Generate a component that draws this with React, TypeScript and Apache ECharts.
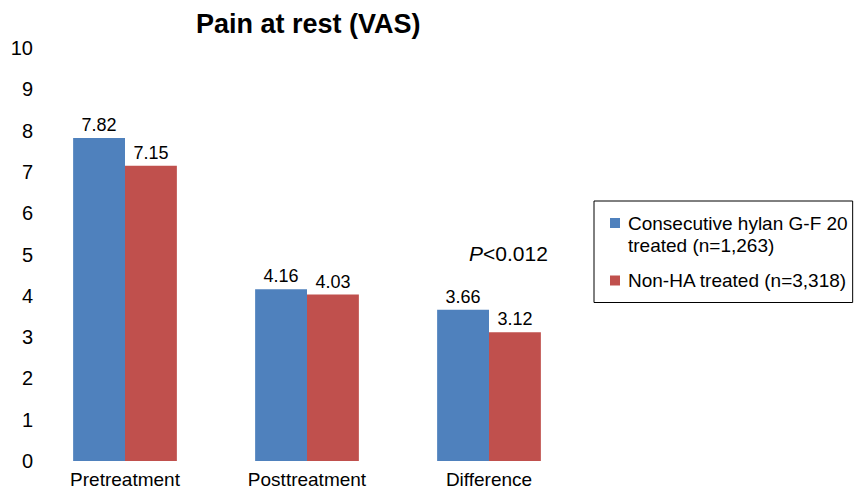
import React, { useEffect, useRef } from "react";
import * as echarts from "echarts";

const categories = ["Pretreatment", "Posttreatment", "Difference"];
const hylanValues = [7.82, 4.16, 3.66];
const nonHaValues = [7.15, 4.03, 3.12];
const seriesNames = ["Consecutive hylan G-F 20\ntreated (n=1,263)", "Non-HA treated (n=3,318)"];
const titleText = "Pain at rest (VAS)";

const FONT = "Liberation Sans, Arial, sans-serif";

// legend icons: a 10x10 square inside a 13x44 frame (frame only sets the bounds)
const iconTop = "path://M0 0L0 0M13 0L13 0M0 6L10 6L10 16L0 16ZM0 44L0 44M13 44L13 44";
const iconMid = "path://M0 0L0 0M13 0L13 0M0 17L10 17L10 27L0 27ZM0 44L0 44M13 44L13 44";

export default function App() {
  const ref = useRef<HTMLDivElement>(null);
  useEffect(() => {
    if (!ref.current) return;
    const chart = echarts.init(ref.current, null, { renderer: "svg" });
    chart.setOption({
      animation: false,
      textStyle: { fontFamily: FONT },
      title: {
        text: titleText,
        left: 191,
        top: 5,
        textStyle: { fontSize: 27, fontWeight: "bold", color: "#000", fontFamily: FONT },
      },
      grid: { left: 34, right: 274, top: 48, bottom: 28, containLabel: false },
      legend: {
        orient: "vertical",
        left: 594,
        top: 201,
        borderColor: "#000",
        borderWidth: 1,
        borderRadius: 0,
        padding: [11, 5, 0, 16],
        itemGap: 2.5,
        itemWidth: 13,
        itemHeight: 44,
        textStyle: { fontSize: 19, color: "#000", lineHeight: 22, fontFamily: FONT },
        data: [
          { name: seriesNames[0], icon: iconTop },
          { name: seriesNames[1], icon: iconMid },
        ],
      },
      xAxis: {
        type: "category",
        data: categories,
        axisLine: { show: false },
        axisTick: { show: false },
        axisLabel: { fontSize: 19, color: "#000", margin: 9, fontFamily: FONT },
      },
      yAxis: {
        type: "value",
        min: 0,
        max: 10,
        interval: 1,
        splitLine: { show: false },
        axisLine: { show: false },
        axisTick: { show: false },
        axisLabel: { fontSize: 20, color: "#000", margin: 1, fontFamily: FONT, padding: [0, 0, 3, 0] },
      },
      series: [
        {
          name: seriesNames[0],
          type: "bar",
          data: hylanValues,
          barGap: "0%",
          barCategoryGap: "43%",
          itemStyle: { color: "#4F81BD" },
          label: { show: true, position: "top", fontSize: 18, color: "#000", distance: 4, fontFamily: FONT },
        },
        {
          name: seriesNames[1],
          type: "bar",
          data: nonHaValues,
          barGap: "0%",
          barCategoryGap: "43%",
          itemStyle: { color: "#C0504D" },
          label: { show: true, position: "top", fontSize: 18, color: "#000", distance: 4, fontFamily: FONT },
        },
      ],
      graphic: [
        {
          type: "text",
          left: 469,
          top: 243,
          style: {
            text: "{i|P}{n|<0.012}",
            rich: {
              i: { fontSize: 21, fontStyle: "italic", fill: "#000", fontFamily: FONT },
              n: { fontSize: 21, fill: "#000", fontFamily: FONT },
            },
          },
        },
      ],
    });
    return () => chart.dispose();
  }, []);
  return <div ref={ref} style={{ width: 854, height: 489, position: "absolute", left: 0, top: 0 }} />;
}
